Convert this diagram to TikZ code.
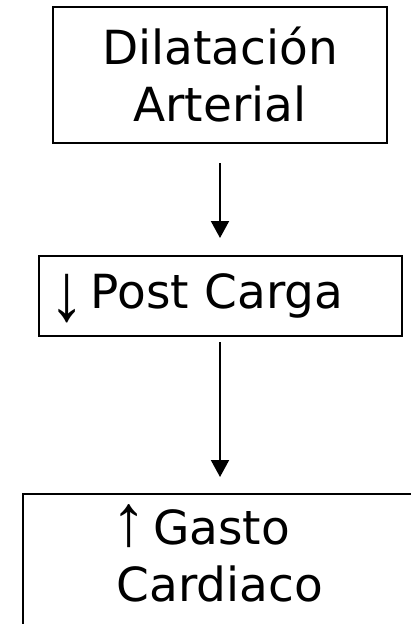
\documentclass[tikz,border=0pt]{standalone}
\usepackage{graphicx}
\usepackage{fontspec}
\setmainfont{DejaVu Sans}
\newfontfamily\arrowfont{Liberation Sans}
\usetikzlibrary{arrows.meta, positioning}

% stretched arrow glyph in the text: #1 raise, #2 vertical scale, #3 glyph
\newcommand\flechatxt[3]{\smash{\raisebox{#1}{\scalebox{1.5}[#2]{\arrowfont #3}}}\hspace{6pt}}

\begin{document}
\begin{tikzpicture}[x=1pt, y=1pt, node distance=111pt,
    box/.style={draw, line width=2pt, rectangle, align=center, font=\fontsize{47}{57}\selectfont},
    flecha/.style={-{Triangle[width=18pt,length=17pt]}, line width=2pt}]
  \useasboundingbox (0,0) rectangle (411,-624);
  \clip (0,0) rectangle (411,-624);

  \node[box, minimum width=334pt, minimum height=136pt] (dil) at (220,-75) {Dilatación\\Arterial};
  \node[box, below=of dil, text width=341pt, inner xsep=11pt, align=left, minimum height=80pt] (post) {\flechatxt{-12pt}{1.75}{↓}Post Carga};
  \node[box, below=156pt of post, minimum width=394pt, minimum height=136pt] (gasto) {\flechatxt{-1pt}{1.55}{↑}Gasto\hspace{38pt}\mbox{}\\Cardiaco\rule[-12pt]{0pt}{0pt}};

  \draw[flecha, shorten <=19pt, shorten >=17pt] (dil) -- (post);
  \draw[flecha, shorten <=5pt, shorten >=16pt] (post) -- (gasto);
\end{tikzpicture}
\end{document}
